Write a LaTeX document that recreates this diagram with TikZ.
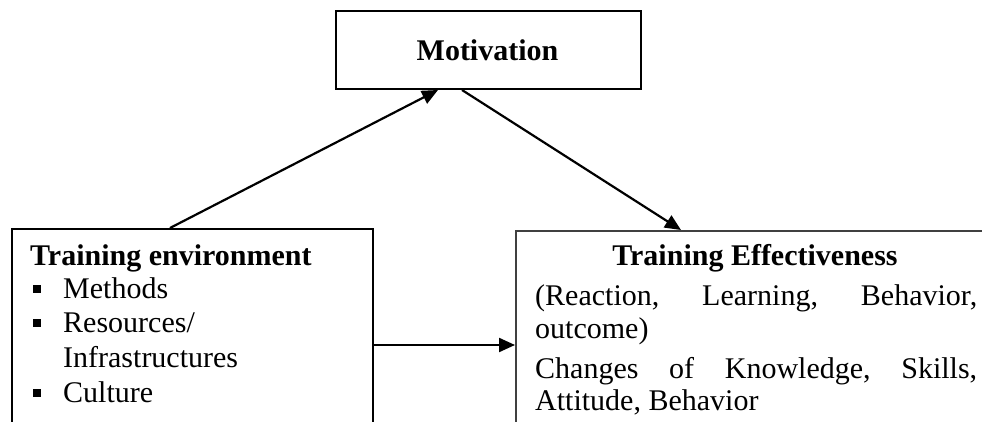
\documentclass[tikz,border=0pt]{standalone}
\usepackage{fontspec}
\setmainfont{Liberation Serif}
\usetikzlibrary{arrows.meta,calc}
\begin{document}
\begin{tikzpicture}[x=1pt,y=-1pt,
  box/.style={draw=black,line width=2pt,rectangle,inner sep=0pt,anchor=north west},
  lbl/.style={inner sep=0pt,font=\fontsize{30}{35}\selectfont},
  conn/.style={line width=2.2pt,-{Triangle[length=16pt,width=14pt]}},
  bul/.style={fill=black,inner sep=0pt,minimum size=7.5pt,rectangle}]
\useasboundingbox (0,0) rectangle (982,422);
\clip (0,0) rectangle (982,422);
% boxes
\node[box,minimum width=305pt,minimum height=78pt] (mot) at (335,10) {};
\node[box,minimum width=361pt,minimum height=230pt] (lbox) at (11,228) {};
\node[box,draw=black!75,minimum width=500pt,minimum height=230pt] (rbox) at (515,230) {};
% motivation text
\node[lbl,anchor=base,font=\fontsize{30}{35}\selectfont\bfseries] (mott) at (487.5,61) {Motivation};
% left box text
\node[lbl,anchor=base west,font=\fontsize{30}{35}\selectfont\bfseries] (lt) at (30,265) {Training environment};
\node[bul] (b1) at (37,289) {};
\node[lbl,anchor=base west] (l1) at (63,298) {Methods};
\node[bul] (b2) at (37,323) {};
\node[lbl,anchor=base west] (l2) at (63,332) {Resources/};
\node[lbl,anchor=base west] (l3) at (63,367) {Infrastructures};
\node[bul] (b3) at (37,393) {};
\node[lbl,anchor=base west] (l4) at (63,402) {Culture};
% right box text
\node[lbl,anchor=base,font=\fontsize{30}{35}\selectfont\bfseries] (rt) at (755,265) {Training Effectiveness};
\node[lbl,anchor=base west] (r1) at (535,305) {\makebox[442pt][s]{(Reaction,\hfill Learning,\hfill Behavior,}};
\node[lbl,anchor=base west] (r2) at (535,338) {outcome)};
\node[lbl,anchor=base west] (r3) at (535,378) {\makebox[442pt][s]{Changes\hfill of\hfill Knowledge,\hfill Skills,}};
\node[lbl,anchor=base west] (r4) at (535,410) {Attitude, Behavior};
% connectors
\draw[conn] ([xshift=159pt]lbox.north west) -- ([xshift=103pt]mot.south west);
\draw[conn] ([xshift=127pt]mot.south west) -- ([xshift=166pt]rbox.north west);
\draw[conn] ([yshift=-117pt]lbox.north east) -- ([yshift=-115pt]rbox.north west);
\end{tikzpicture}
\end{document}
